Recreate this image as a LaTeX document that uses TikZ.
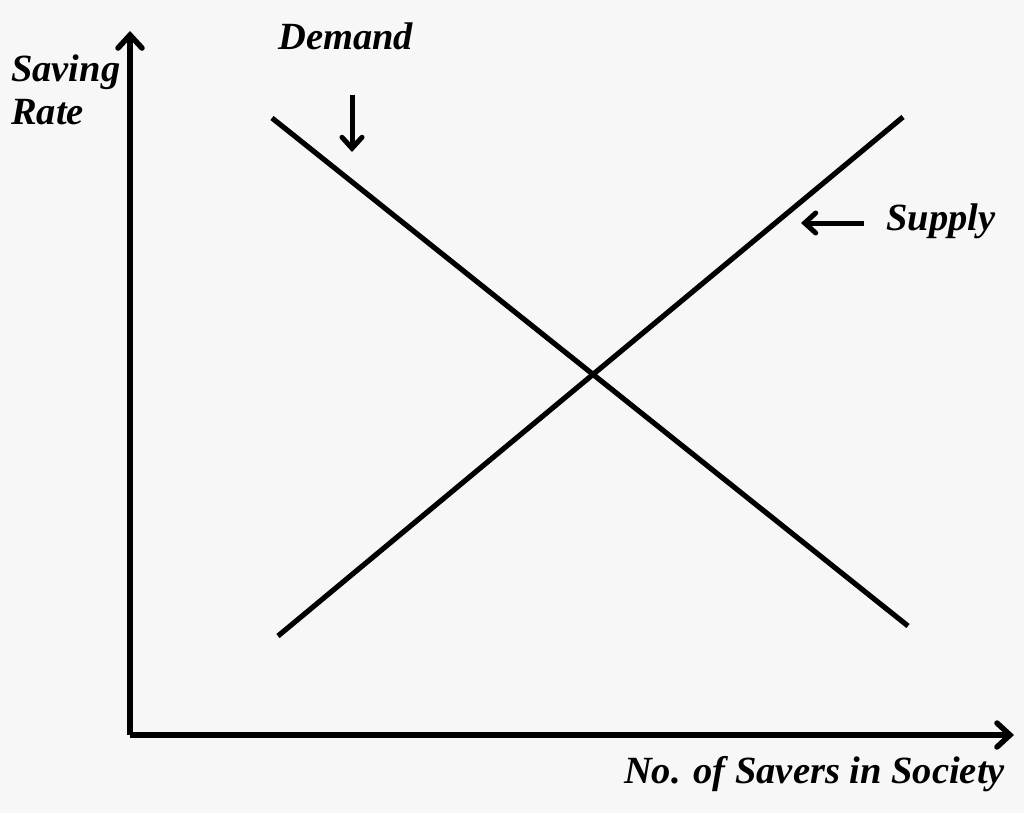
\documentclass[tikz,border=0pt]{standalone}
\usepackage{fontspec}
\setmainfont{Liberation Serif}
\usetikzlibrary{arrows.meta}
\begin{document}
\begin{tikzpicture}[x=1pt,y=-1pt,
  axis/.style={line width=5.5pt,-{Straight Barb[length=13pt,width=24pt,line width=5.5pt,line cap=round]}},
  curve/.style={line width=5.2pt},
  pointer/.style={line width=5pt,-{Straight Barb[length=11pt,width=20pt,line width=5pt,line cap=round]}},
  lbl/.style={font=\fontsize{38.5}{44}\selectfont\bfseries\itshape, inner sep=0pt, align=left}]
\fill[white!97!black] (0,0) rectangle (1024,813);
\useasboundingbox (0,0) rectangle (1024,813);
\coordinate (O) at (130,735);
\coordinate (Ytop) at (130,31);
\coordinate (Xend) at (1014,735);
\draw[axis] (O) -- (Ytop);
\draw[axis] (O) -- (Xend);
\coordinate (D1) at (272,118);
\coordinate (D2) at (908,626);
\coordinate (S1) at (278,636);
\coordinate (S2) at (903,117);
\draw[curve] (D1) -- (D2);
\draw[curve] (S1) -- (S2);
\node[lbl, anchor=north west] (ylab) at (11,55) {Saving\\[-1pt]Rate};
\node[lbl, anchor=west] (dlab) at (278,36) {Demand};
\node[lbl, anchor=west] (slab) at (886,221) {Supply};
\node[lbl, anchor=east] (xlab) at (1005,774) {No. of Savers in Society};
\coordinate (da1) at (352,95);
\coordinate (da2) at (352,152);
\draw[pointer] (da1) -- (da2);
\coordinate (sa1) at (864,223);
\coordinate (sa2) at (801,223);
\draw[pointer] (sa1) -- (sa2);
\end{tikzpicture}
\end{document}
